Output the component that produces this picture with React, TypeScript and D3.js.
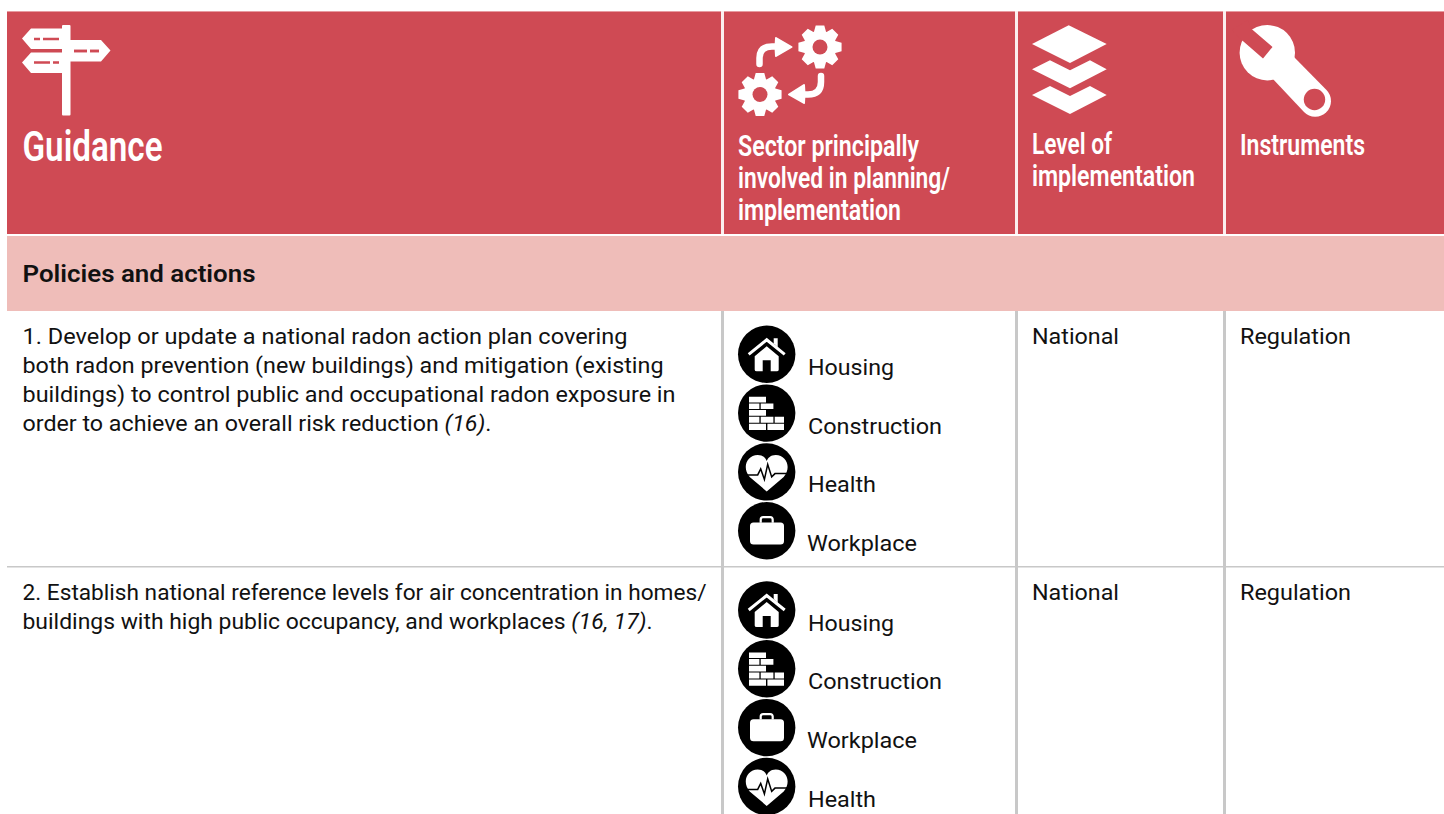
import React from 'react';
import * as d3 from 'd3';

const width = 1444, height = 814;

// table content
const columnKeys = ['guidance', 'sector', 'level', 'instruments'];
const guidanceHeader = ['Guidance'];
const sectorHeader = ['Sector principally', 'involved in planning/', 'implementation'];
const levelHeader = ['Level of', 'implementation'];
const instrumentsHeader = ['Instruments'];
const bandTitle = 'Policies and actions';

const row1Lines = [
    ['1. Develop or update a national radon action plan covering', ''],
    ['both radon prevention (new buildings) and mitigation (existing', ''],
    ['buildings) to control public and occupational radon exposure in', ''],
    ['order to achieve an overall risk reduction ', '(16)', '.'],
];
const row2Lines = [
    ['2. Establish national reference levels for air concentration in homes/', ''],
    ['buildings with high public occupancy, and workplaces ', '(16, 17)', '.'],
];
const row1Sectors = ['Housing', 'Construction', 'Health', 'Workplace'];
const row2Sectors = ['Housing', 'Construction', 'Workplace', 'Health'];
const rowLevels = ['National', 'National'];
const rowInstruments = ['Regulation', 'Regulation'];

// measured text widths, the fonts here are not the original one
const textWidths: Record<string, number> = {
    'Guidance': 140,
    'Sector principally': 181,
    'involved in planning/': 212,
    'implementation': 163,
    'Level of': 80,
    'Instruments': 125,
    'Policies and actions': 233,
    'Housing': 86,
    'Construction': 134,
    'Health': 68,
    'Workplace': 110,
    'National': 87,
    'Regulation': 111,
};
const row1Widths = [605, 641, 653, 469];
const row2Widths = [684, 630];

const red = '#cf4a54';
const pink = '#efbdb9';
const grey = '#c8c8c8';
const ink = '#111';
const bodyFont = 'Roboto, "Noto Sans", sans-serif';
const headFont = '"Liberation Sans Narrow", Roboto, sans-serif';

const columnX = d3.scaleOrdinal<string, number>().domain(columnKeys).range([22.5, 738, 1032, 1240]);
const iconY = d3.scaleLinear().domain([0, 3]).range([0, 176.4]);
const lineY = d3.scaleLinear().domain([0, 1]).range([0, 29]);

// gear outline with 8 teeth, built from polar points
function gearPath(outer: number, inner: number) {
    const pts: [number, number][] = [];
    d3.range(8).forEach(i => {
        const a = (i / 8) * 2 * Math.PI;
        const w = Math.PI / 8;
        [[a - w * 0.95, inner], [a - w * 0.5, outer], [a + w * 0.5, outer], [a + w * 0.95, inner]].forEach(([t, r]) => {
            pts.push([Math.cos(t) * r, Math.sin(t) * r]);
        });
    });
    return d3.line()(pts) + 'Z';
}

function Signpost() {
    return (
        <g>
            <path d="M22 38.5L31 28.5H62V49H31ZM22 62.5L31 52.5H62V73H31ZM62 40H101L110.5 50.5L101 61.5H62Z" fill="#fff" />
            <g stroke={red} strokeWidth={2.4}>
                <path d="M34 39H40M43 39H59M34 62.5H50M53 62.5H59M74 51H87M90 51H99" />
                <path d="M30 50.5H62" strokeWidth={2.6} />
            </g>
            <rect x={62} y={25} width={8.5} height={90.5} rx={1} fill="#fff" />
            <path d="M74 51H87M90 51H99" stroke={red} strokeWidth={2.4} />
        </g>
    );
}

function SectorIcon() {
    const gear = gearPath(22, 16.5);
    return (
        <g fill="#fff">
            <g transform="translate(820,47)"><path d={gear} /><circle r={7.5} fill={red} /></g>
            <g transform="translate(760,94.5)"><path d={gear} /><circle r={7.5} fill={red} /></g>
            <path d="M759.5 64V58Q759.5 46.5 772 46.5H778" fill="none" stroke="#fff" strokeWidth={6.5} strokeLinecap="round" />
            <path d="M776 38L791.5 47L776 56Q775 47 776 38Z" stroke="#fff" strokeWidth={2} strokeLinejoin="round" />
            <path d="M821 76V82Q821 94.5 808 94.5H802" fill="none" stroke="#fff" strokeWidth={6.5} strokeLinecap="round" />
            <path d="M804 85L789 94.5L804 103Q805 94 804 85Z" stroke="#fff" strokeWidth={2} strokeLinejoin="round" />
        </g>
    );
}

function LayersIcon() {
    return (
        <g fill="#fff">
            <path d="M1032 44L1068.7 25.3L1106.7 44L1070 63Z" />
            <path d="M1032 69.3L1050 60.3L1070 70.3L1090 60.3L1106.7 69.3L1070 88.3Z" />
            <path d="M1032 95L1050 86L1070 96L1090 86L1106.7 95L1070 114Z" />
        </g>
    );
}

function WrenchIcon() {
    return (
        <g>
            <circle cx={1267.3} cy={52.7} r={27.7} fill="#fff" />
            <path d="M1240 38.5L1263 58.5L1272.5 47L1251 28.5L1248 20L1232 30Z" fill={red} />
            <path d="M1293 56L1326.5 90A15.5 15.5 0 0 1 1304 112L1272 78Z" fill="#fff" />
            <circle cx={1314.5} cy={99.5} r={10.7} fill={red} />
        </g>
    );
}

// round black sector badges, drawn around their centre
function Badge({ name, cx, cy }: { name: string; cx: number; cy: number }) {
    let glyph = null;
    if (name === 'Housing') {
        glyph = (
            <g fill="#fff">
                <path d="M-18 0L0 -14.5L18 0" fill="none" stroke="#fff" strokeWidth={3} />
                <path d="M7 -11V-16H11V-7Z" />
                <path d="M-12 2L0 -8L12 2V15.5Q12 17 10 17H4V6H-4V17H-10Q-12 17 -12 15.5Z" />
            </g>
        );
    } else if (name === 'Construction') {
        glyph = (
            <path
                fill="#fff"
                d="M-17.7 -16.3H-0.7V-10.7H-17.7ZM-17.7 -9.7H-7.3V-4H-17.7ZM-6 -9.7H6.7V-4H-6ZM-17.7 -3H-0.7V2.7H-17.7ZM-17.7 3.7H-7.3V9.7H-17.7ZM-6 3.7H6.7V9.7H-6ZM8 3.7H17.3V9.7H8ZM-17.7 10.7H-0.7V17H-17.7ZM0.7 10.7H17.3V17H0.7Z"
            />
        );
    } else if (name === 'Health') {
        glyph = (
            <g>
                <path fill="#fff" d="M0 19.5L-17 5C-25 -4 -20 -17 -9 -17C-4 -17 -1 -14 0 -11C1 -14 4 -17 9 -17C20 -17 25 -4 17 5Z" />
                <path fill="none" stroke="#000" strokeWidth={1.5} d="M-21 3H-9L-6 -3L-2.3 7.5L1 -7.5L5 5L8.3 1.7H21" />
            </g>
        );
    } else {
        glyph = (
            <g>
                <path d="M-6 -8V-11Q-6 -13.5 -3.5 -13.5H3.5Q6 -13.5 6 -11V-8" fill="none" stroke="#fff" strokeWidth={2.2} />
                <rect x={-16.7} y={-8.3} width={34} height={22} rx={3.5} fill="#fff" />
            </g>
        );
    }
    return (
        <g transform={`translate(${cx},${cy})`}>
            <circle r={28.7} fill="#000" />
            {glyph}
        </g>
    );
}

function Label({ text, x, y, size, fill = ink, family = bodyFont, weight = 400 }: any) {
    return (
        <text
            x={x}
            y={y}
            fontSize={size}
            fill={fill}
            fontFamily={family}
            fontWeight={weight}
            textLength={textWidths[text]}
            lengthAdjust="spacingAndGlyphs"
        >
            {text}
        </text>
    );
}

function BodyLines({ lines, widths, top }: { lines: string[][]; widths: number[]; top: number }) {
    return (
        <g>
            {lines.map((l, i) => (
                <text
                    key={i}
                    x={columnX('guidance')}
                    y={top + lineY(i)}
                    fontSize={22}
                    fill={ink}
                    fontFamily={bodyFont}
                    textLength={widths[i]}
                    lengthAdjust="spacingAndGlyphs"
                >
                    {l[0]}
                    {l[1] ? <tspan fontStyle="italic">{l[1]}</tspan> : null}
                    {l[2] || null}
                </text>
            ))}
        </g>
    );
}

function SectorList({ names, top }: { names: string[]; top: number }) {
    return (
        <g>
            {names.map((n, i) => (
                <g key={n}>
                    <Badge name={n} cx={766.7} cy={top + iconY(i)} />
                    <Label text={n} x={n === 'Workplace' ? 807 : 808} y={top + iconY(i) + 20.5} size={22.5} />
                </g>
            ))}
        </g>
    );
}

export default function App() {
    const dividers = [722.5, 1016.5, 1224.5];
    return (
        <svg
            width={width}
            height={height}
            viewBox={`0 0 ${width} ${height}`}
            style={{ position: 'absolute', left: 0, top: 0, background: '#fff' }}
        >
            <rect x={7} y={12} width={width - 7} height={222} fill={red} />
            <rect x={7} y={11} width={width - 7} height={1} fill="#e79aa0" />
            <rect x={7} y={236} width={width - 7} height={75} fill={pink} />

            {dividers.map(x => (
                <rect key={x} x={x - 1.5} y={11} width={3} height={223} fill="#fbeeee" />
            ))}
            {dividers.map(x => (
                <rect key={x} x={x - 1.5} y={311} width={3} height={height - 311} fill={grey} />
            ))}
            <rect x={7} y={566} width={width - 7} height={1.5} fill={grey} />

            <Signpost />
            <SectorIcon />
            <LayersIcon />
            <WrenchIcon />

            <Label text={guidanceHeader[0]} x={columnX('guidance')} y={161} size={42} fill="#fff" family={headFont} weight={600} />
            {sectorHeader.map((t, i) => (
                <Label key={t} text={t} x={columnX('sector')} y={156 + i * 32} size={29} fill="#fff" family={headFont} weight={600} />
            ))}
            {levelHeader.map((t, i) => (
                <Label key={t} text={t} x={columnX('level')} y={154 + i * 31.7} size={29} fill="#fff" family={headFont} weight={600} />
            ))}
            <Label text={instrumentsHeader[0]} x={columnX('instruments')} y={154.5} size={29} fill="#fff" family={headFont} weight={600} />

            <Label text={bandTitle} x={columnX('guidance')} y={282} size={23} weight={600} />

            <BodyLines lines={row1Lines} widths={row1Widths} top={343.5} />
            <BodyLines lines={row2Lines} widths={row2Widths} top={599.5} />

            <SectorList names={row1Sectors} top={354.3} />
            <SectorList names={row2Sectors} top={610} />

            {rowLevels.map((t, i) => (
                <Label key={i} text={t} x={columnX('level')} y={i === 0 ? 343.5 : 599.5} size={22.5} />
            ))}
            {rowInstruments.map((t, i) => (
                <Label key={i} text={t} x={columnX('instruments')} y={i === 0 ? 343.5 : 599.5} size={22.5} />
            ))}
        </svg>
    );
}
